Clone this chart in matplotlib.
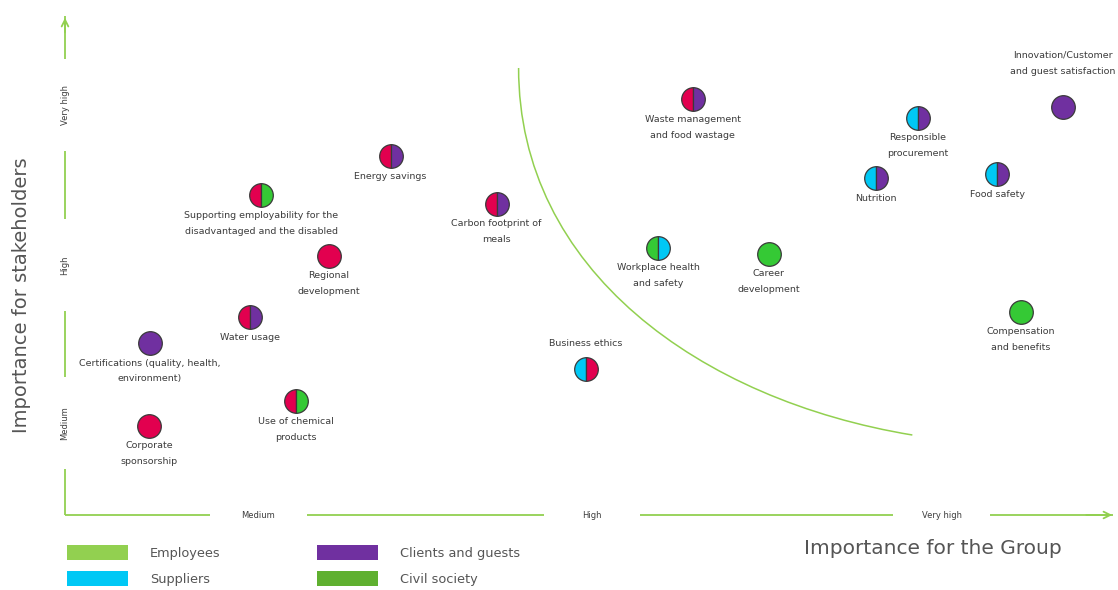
import matplotlib
matplotlib.use("Agg")
import matplotlib.pyplot as plt
from matplotlib.path import Path
from matplotlib.patches import PathPatch, Rectangle

# ---- data (x: importance for the Group, y: importance for stakeholders; 0-10 scale)
topics = [
    "Innovation/Customer\nand guest satisfaction",
    "Waste management\nand food wastage",
    "Responsible\nprocurement",
    "Nutrition",
    "Food safety",
    "Energy savings",
    "Supporting employability for the\ndisadvantaged and the disabled",
    "Carbon footprint of\nmeals",
    "Regional\ndevelopment",
    "Workplace health\nand safety",
    "Career\ndevelopment",
    "Compensation\nand benefits",
    "Water usage",
    "Certifications (quality, health,\nenvironment)",
    "Business ethics",
    "Use of chemical\nproducts",
    "Corporate\nsponsorship",
]
x_group = [9.50, 5.98, 8.12, 7.72, 8.88, 3.10, 1.87, 4.11, 2.51, 5.65, 6.70, 9.10, 1.76, 0.81, 4.96, 2.20, 0.80]
y_stake = [8.16, 8.32, 7.94, 6.74, 6.82, 7.18, 6.40, 6.22, 5.18, 5.34, 5.22, 4.06, 3.96, 3.44, 2.92, 2.28, 1.78]
left_color = ["purple", "crimson", "cyan", "cyan", "cyan", "crimson", "crimson", "crimson", "crimson",
              "green", "green", "green", "crimson", "purple", "cyan", "crimson", "crimson"]
right_color = ["purple", "purple", "purple", "purple", "purple", "purple", "green", "purple", "crimson",
               "cyan", "green", "green", "purple", "purple", "crimson", "green", "crimson"]
label_pos = ["above", "below", "below", "below", "below", "below", "below", "below", "below",
             "below", "below", "below", "below", "below", "above", "below", "below"]

level_labels = ["Medium", "High", "Very high"]
x_level_pos = [1.84, 5.02, 8.35]
y_level_pos = [1.84, 5.00, 8.20]

legend_labels = ["Employees", "Suppliers", "Clients and guests", "Civil society"]
legend_keys = ["employees", "cyan", "purple", "civil"]

# materiality boundary (cubic Bezier control points)
curve_x = [4.32, 4.32, 6.05, 8.07]
curve_y = [8.94, 4.90, 2.30, 1.60]

# ---- styles
palette = {
    "crimson": "#E2004F",
    "purple": "#7030A0",
    "cyan": "#00C8F5",
    "green": "#35C935",
    "employees": "#92D050",
    "civil": "#5FB030",
}
axis_green = "#92D050"
text_gray = "#3c3c3c"

W, H = 1118, 590
fig = plt.figure(figsize=(W / 100, H / 100), dpi=100)
ax = fig.add_axes([65 / W, 75 / H, 1050 / W, 500 / H])
ax.set_xlim(0, 10)
ax.set_ylim(0, 10)
ax.axis("off")

# axes lines with gaps for level labels
xgap = 0.46
ygap = 0.92
xs = [0] + [v for p in x_level_pos for v in (p - xgap, p + xgap)] + [9.98]
for i in range(0, len(xs), 2):
    ax.plot([xs[i], xs[i + 1]], [0, 0], color=axis_green, lw=1.3, clip_on=False, solid_capstyle="butt")
ys = [0] + [v for p in y_level_pos for v in (p - ygap, p + ygap)] + [9.98]
for i in range(0, len(ys), 2):
    ax.plot([0, 0], [ys[i], ys[i + 1]], color=axis_green, lw=1.3, clip_on=False, solid_capstyle="butt")
ax.annotate("", xy=(10.0, 0), xytext=(9.7, 0),
            arrowprops=dict(arrowstyle="->", color=axis_green, lw=1.3, mutation_scale=12), annotation_clip=False)
ax.annotate("", xy=(0, 10.0), xytext=(0, 9.6),
            arrowprops=dict(arrowstyle="->", color=axis_green, lw=1.3, mutation_scale=12), annotation_clip=False)

for lab, p in zip(level_labels, x_level_pos):
    ax.text(p, 0, lab, ha="center", va="center", fontsize=6, color=text_gray)
for lab, p in zip(level_labels, y_level_pos):
    ax.text(0, p, lab, ha="center", va="center", fontsize=6, color=text_gray, rotation=90)

# boundary curve
verts = list(zip(curve_x, curve_y))
path = Path(verts, [Path.MOVETO, Path.CURVE4, Path.CURVE4, Path.CURVE4])
ax.add_patch(PathPatch(path, facecolor="none", edgecolor=axis_green, lw=1.1))

# points
for t, x, y, lc, rc, pos in zip(topics, x_group, y_stake, left_color, right_color, label_pos):
    style = dict(fillstyle="full") if lc == rc else dict(fillstyle="left", markerfacecoloralt=palette[rc])
    ax.plot([x], [y], marker="o", linestyle="none", markersize=17,
            markerfacecolor=palette[lc], markeredgecolor="#3a3a3a", markeredgewidth=0.9,
            clip_on=False, zorder=3, **style)
    nlines = t.count("\n") + 1
    if pos == "below":
        off = -(13 + 7.5 * nlines) * 0.72
    else:
        off = (8 + 18 * nlines) * 0.72
    ax.annotate(t, (x, y), xytext=(0, off), textcoords="offset points",
                ha="center", va="center", fontsize=6.8, color=text_gray,
                linespacing=2.0, annotation_clip=False)

# axis titles
fig.text(933 / W, 1 - 549 / H, "Importance for the Group", ha="center", va="center",
         fontsize=14.5, color="#555555")
fig.text(22 / W, 1 - 295 / H, "Importance for stakeholders", ha="center", va="center",
         fontsize=14, color="#555555", rotation=90)

# legend
legend_xy = [(67, 545), (67, 571), (317, 545), (317, 571)]
for (lx, ly), lab, key in zip(legend_xy, legend_labels, legend_keys):
    fig.patches.append(Rectangle((lx / W, 1 - (ly + 15) / H), 61 / W, 15 / H,
                                 transform=fig.transFigure, facecolor=palette[key], edgecolor="none"))
    fig.text((lx + 83) / W, 1 - (ly + 8) / H, lab, ha="left", va="center", fontsize=9.3, color="#555555")

fig.savefig("out.png", dpi=100)
